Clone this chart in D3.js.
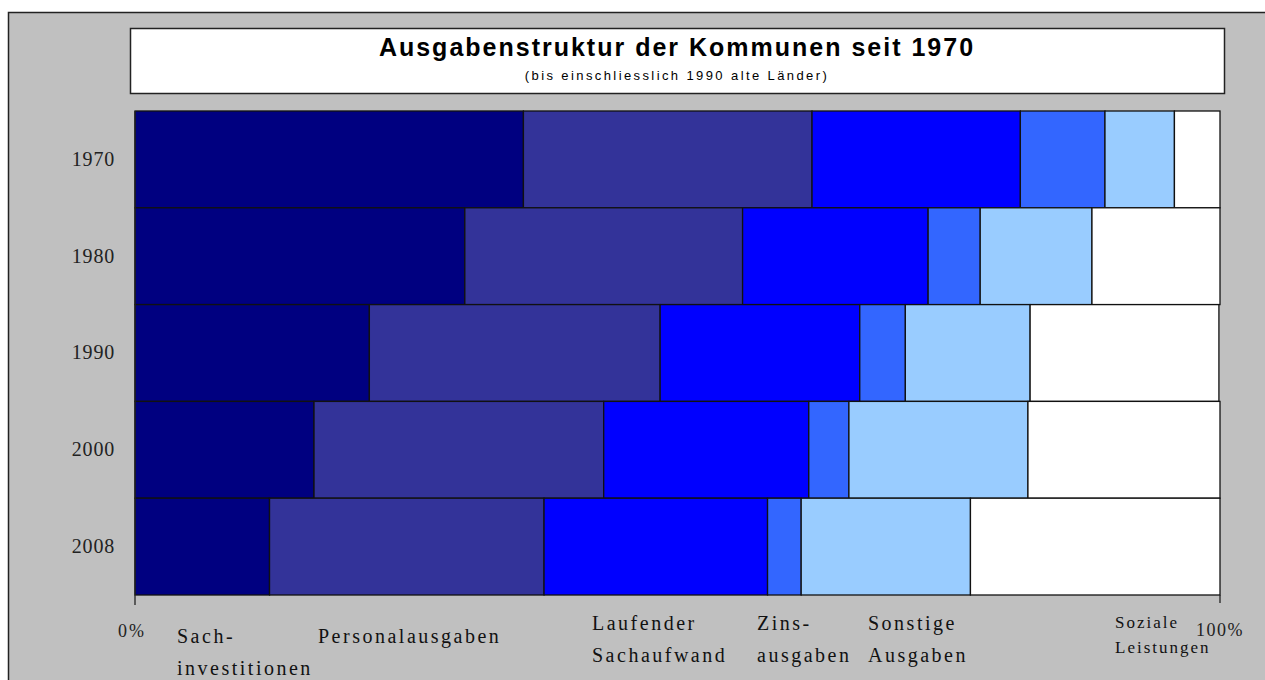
<!DOCTYPE html>
<html>
<head>
<meta charset="utf-8">
<script src="https://cdn.jsdelivr.net/npm/d3@7/dist/d3.min.js"></script>
<style>
  body { margin: 0; background: #fff; }
  svg { display: block; }
</style>
</head>
<body>
<svg id="chart" width="1265" height="680"></svg>
<script>
// Jahre (Zeilen) und Ausgabenarten (Segmente), Anteile in %
const jahre = ["1970", "1980", "1990", "2000", "2008"];
const arten = ["Sachinvestitionen", "Personalausgaben", "Laufender Sachaufwand", "Zinsausgaben", "Sonstige Ausgaben", "Soziale Leistungen"];
const sachinvestitionen = [35.8, 30.4, 21.6, 16.5, 12.4];
const personalausgaben  = [26.6, 25.6, 26.8, 26.7, 25.3];
const sachaufwand       = [19.2, 17.1, 18.4, 18.9, 20.6];
const zinsausgaben      = [7.8, 4.8, 4.2, 3.7, 3.1];
const sonstige          = [6.4, 10.3, 11.5, 16.5, 15.6];
const sozial            = [4.2, 11.8, 17.4, 17.7, 23.0];
const farben = ["#000080", "#333399", "#0000ff", "#3366ff", "#99ccff", "#ffffff"];
const achsenTicks = ["0%", "100%"];

const reihen = [sachinvestitionen, personalausgaben, sachaufwand, zinsausgaben, sonstige, sozial];
const tabelle = jahre.map((j, i) => {
    const zeile = { jahr: j };
    arten.forEach((a, k) => zeile[a] = reihen[k][i]);
    return zeile;
});

const serif = "Liberation Serif, Times New Roman, serif";
const sans = "Liberation Sans, Arial, sans-serif";
const svg = d3.select("#chart");

// Hintergrund und Rahmen
svg.append("rect").attr("x", 8.5).attr("y", 12.5).attr("width", 1300).attr("height", 700)
    .attr("fill", "#c0c0c0").attr("stroke", "#222").attr("stroke-width", 1.5);

// Titelbox
svg.append("rect").attr("x", 130.5).attr("y", 28.5).attr("width", 1094).attr("height", 65)
    .attr("fill", "#fff").attr("stroke", "#222").attr("stroke-width", 1.5);
svg.append("text").attr("x", 677).attr("y", 56).attr("text-anchor", "middle")
    .attr("font-family", sans).attr("font-weight", "bold").attr("letter-spacing", 2)
    .attr("font-size", 25).attr("fill", "#000").text("Ausgabenstruktur der Kommunen seit 1970");
svg.append("text").attr("x", 677).attr("y", 80).attr("text-anchor", "middle")
    .attr("font-family", sans).attr("letter-spacing", 2.4)
    .attr("font-size", 13).attr("fill", "#000").text("(bis einschliesslich 1990 alte Länder)");

const links = 135, rechts = 1220, oben = 111, unten = 595;

const x = d3.scaleLinear().domain([0, 100]).range([links, rechts]);
const y = d3.scaleBand().domain(jahre).range([oben, unten]).padding(0);

const stapel = d3.stack().keys(arten)(tabelle);

svg.append("g").selectAll("g")
    .data(stapel)
    .join("g")
    .attr("fill", (d, i) => farben[i])
    .selectAll("rect")
    .data(d => d)
    .join("rect")
    .attr("x", d => x(d[0]))
    .attr("y", d => y(d.data.jahr))
    .attr("width", d => x(d[1]) - x(d[0]))
    .attr("height", y.bandwidth())
    .attr("stroke", "#111")
    .attr("stroke-width", 1.3);

// Jahresachse links
const yAchse = svg.append("g").attr("transform", `translate(${links},0)`)
    .call(d3.axisLeft(y).tickSize(0).tickPadding(20));
yAchse.select(".domain").remove();
yAchse.selectAll("text").attr("font-family", serif).attr("letter-spacing", 0.8)
    .attr("font-size", 20).attr("fill", "#222");
svg.append("line").attr("x1", links).attr("x2", links).attr("y1", oben).attr("y2", unten + 10)
    .attr("stroke", "#222").attr("stroke-width", 1.3);
svg.append("line").attr("x1", rechts).attr("x2", rechts).attr("y1", unten).attr("y2", unten + 8)
    .attr("stroke", "#222").attr("stroke-width", 1.3);

// 0% / 100%
svg.append("text").attr("x", x(0) - 17).attr("y", 637).text(achsenTicks[0]).attr("letter-spacing", 2)
    .attr("font-family", serif).attr("font-size", 18).attr("fill", "#222");
svg.append("text").attr("x", x(100) - 24).attr("y", 636).text(achsenTicks[1]).attr("letter-spacing", 1.5)
    .attr("font-family", serif).attr("font-size", 18).attr("fill", "#222");

// Legendenbeschriftungen unten
const beschriftung = [
    { x: 177, y: 643, zeilen: ["Sach-", "investitionen"], g: 20 },
    { x: 318, y: 643, zeilen: ["Personalausgaben"], g: 20 },
    { x: 592, y: 630, zeilen: ["Laufender", "Sachaufwand"], g: 20 },
    { x: 757, y: 630, zeilen: ["Zins-", "ausgaben"], g: 20 },
    { x: 868, y: 630, zeilen: ["Sonstige", "Ausgaben"], g: 20 },
    { x: 1115, y: 628, zeilen: ["Soziale", "Leistungen"], g: 17 }
];
beschriftung.forEach(b => {
    const t = svg.append("text").attr("x", b.x).attr("y", b.y)
        .attr("font-family", serif)
        .attr("font-size", b.g).attr("letter-spacing", b.g === 17 ? 2 : 2.5).attr("fill", "#111");
    b.zeilen.forEach((z, i) => t.append("tspan").attr("x", b.x).attr("dy", i ? (b.g === 17 ? 25 : 32) : 0).text(z));
});
</script>
</body>
</html>
